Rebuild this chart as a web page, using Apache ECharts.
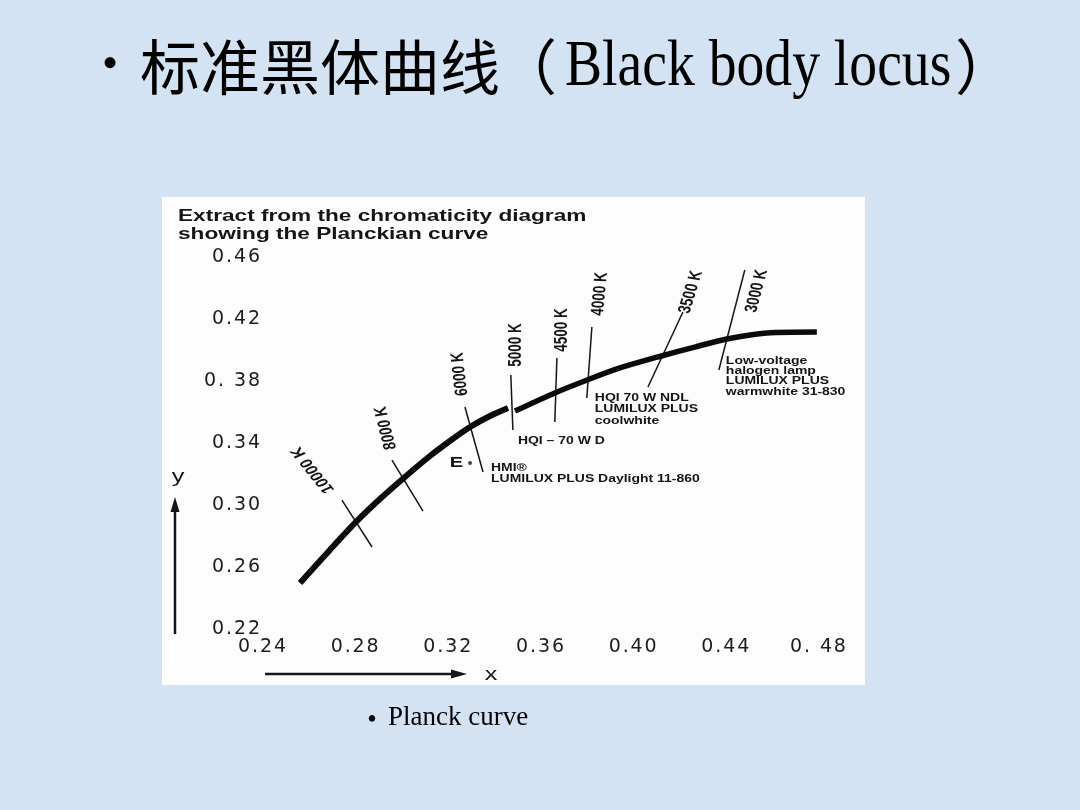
<!DOCTYPE html>
<html lang="zh">
<head>
<meta charset="utf-8">
<title>标准黑体曲线</title>
<script src="https://cdn.jsdelivr.net/npm/echarts@6.0.0/dist/echarts.min.js"></script>
<style>
  html, body { margin: 0; padding: 0; background: #d4e3f4; }
  #chart { width: 1080px; height: 810px; }
</style>
</head>
<body>
<div id="chart"></div>
<script>
// ---- data (CIE 1931 chromaticity x, y) --------------------------------
// Planckian locus, hot end up to the small jog at 5000 K
const locusHot = [
  [0.2564, 0.2497], [0.2693, 0.2710], [0.2810, 0.2897], [0.2909, 0.3039],
  [0.3017, 0.3181], [0.3125, 0.3316], [0.3211, 0.3413], [0.3298, 0.3503],
  [0.3384, 0.3574], [0.3462, 0.3626]
];
// warm end, from the 5000 K jog towards red
const locusWarm = [
  [0.3492, 0.3606], [0.3664, 0.3723], [0.3815, 0.3813], [0.3945, 0.3884],
  [0.4109, 0.3955], [0.4268, 0.4019], [0.4406, 0.4071], [0.4579, 0.4110],
  [0.4795, 0.4116]
];
// isotherms: name, upper end, lower end
const isothermNames = ['10000 K', '8000 K', '6000 K', '5000 K', '4500 K', '4000 K', '3500 K', '3000 K'];
const isothermUpper = [
  [0.2745, 0.3032], [0.2961, 0.3290], [0.3276, 0.3632], [0.3474, 0.3839],
  [0.3673, 0.3948], [0.3824, 0.4148], [0.4217, 0.4245], [0.4484, 0.4516]
];
const isothermLower = [
  [0.2875, 0.2729], [0.3095, 0.2961], [0.3354, 0.3213], [0.3483, 0.3484],
  [0.3664, 0.3535], [0.3802, 0.3690], [0.4066, 0.3761], [0.4372, 0.3871]
];
// equal-energy white point E
const equalEnergyPoint = [0.3298, 0.3271];

const xTickValues = [0.24, 0.28, 0.32, 0.36, 0.40, 0.44, 0.48];
const xTickLabels = ['0.24', '0.28', '0.32', '0.36', '0.40', '0.44', '0. 48'];
const yTickValues = [0.22, 0.26, 0.30, 0.34, 0.38, 0.42, 0.46];
const yTickLabels = ['0.22', '0.26', '0.30', '0.34', '0. 38', '0.42', '0.46'];

// lamp notes, each hung off the lower end of an isotherm
const lampNoteIsotherm = [2, 3, 5, 7];
const lampNotes = [
  ['HMI®', 'LUMILUX PLUS Daylight 11-860'],
  ['HQI – 70 W D'],
  ['HQI 70 W NDL', 'LUMILUX PLUS', 'coolwhite'],
  ['Low-voltage', 'halogen lamp', 'LUMILUX PLUS', 'warmwhite 31-830']
];

// ---- layout -----------------------------------------------------------
const WIDE = 1.33;                       // the diagram's lettering is set wide
const SANS = '"Liberation Sans", Arial, sans-serif';
const SERIF = '"Liberation Serif", "Times New Roman", serif';
const CJK = '"Noto Sans CJK SC", sans-serif';
const INK = '#151515';

// isotherm label placement: offset from the upper end (px) and angle (deg)
const isoLabelPlace = [
  [-29, -30, 121], [-6, -32, 101], [-5, -33, 95], [5, -30, 90],
  [5, -28, 90], [8, -33, 86], [8, -20, 77], [12, 21, 79]
];
// lamp note placement: offset from isotherm lower end to first line, line gap
const notePlace = [
  [8, -4, 11], [5, 11, 11], [8, 0, 11.5], [7, -9, 10.3]
];

const tracked = s => s.split('').join('\u200A');
const tickText = (vals, labels) => v => {
  const i = vals.findIndex(t => Math.abs(t - v) < 1e-6);
  return i < 0 ? '' : tracked(labels[i]);
};
const hiddenAxisParts = {
  axisLine: { show: false }, axisTick: { show: false }, splitLine: { show: false }
};
const tickFont = { color: '#1c1c1c', fontFamily: 'DejaVu Sans', fontSize: 19 };

const chart = echarts.init(document.getElementById('chart'), null, { renderer: 'canvas' });

chart.setOption({
  backgroundColor: '#d4e3f4',
  animation: false,
  grid: { left: 262, right: 262, top: 257, bottom: 181 },
  xAxis: Object.assign({
    type: 'value', min: 0.24, max: 0.48, interval: 0.04,
    axisLabel: Object.assign({ margin: 9, formatter: tickText(xTickValues, xTickLabels) }, tickFont)
  }, hiddenAxisParts),
  yAxis: Object.assign({
    type: 'value', min: 0.22, max: 0.46, interval: 0.02,
    axisLabel: Object.assign({ margin: 2, formatter: tickText(yTickValues, yTickLabels) }, tickFont)
  }, hiddenAxisParts),
  series: [
    {
      type: 'line', data: locusHot, smooth: 0.3, symbol: 'none', z: 4,
      lineStyle: { color: '#0b0b0b', width: 6, cap: 'butt' }
    },
    {
      type: 'line', data: locusWarm, smooth: 0.3, symbol: 'none', z: 4,
      lineStyle: { color: '#0b0b0b', width: 5.5, cap: 'butt' }
    },
    {
      type: 'lines', coordinateSystem: 'cartesian2d', z: 3,
      data: isothermUpper.map((p, i) => ({ coords: [p, isothermLower[i]] })),
      lineStyle: { color: INK, width: 1.5, opacity: 1, curveness: 0 }
    },
    {
      type: 'scatter', data: [equalEnergyPoint], symbolSize: 4, z: 4,
      itemStyle: { color: INK }
    }
  ]
});

// ---- text and decorations placed on top of the plot --------------------
const P = p => chart.convertToPixel({ gridIndex: 0 }, p);

function text(str, x, y, font, extra) {
  const el = {
    type: 'text', x: x, y: y, z: 10, silent: true,
    style: {
      text: str, font: font, fill: INK,
      align: 'left', verticalAlign: 'middle',
      textAlign: 'left', textVerticalAlign: 'middle'
    }
  };
  if (extra && extra.style) Object.assign(el.style, extra.style);
  if (extra) Object.keys(extra).forEach(k => { if (k !== 'style') el[k] = extra[k]; });
  return el;
}

const g = [];
// white card behind the diagram
g.push({ type: 'rect', z: -1, silent: true,
  shape: { x: 162, y: 197, width: 703, height: 488 }, style: { fill: '#fdfdfd' } });

// slide heading
g.push(text('•', 110, 66, '46px ' + SERIF, { style: { fill: '#000', align: 'center', textAlign: 'center' } }));
g.push(text('标准黑体曲线', 140, 67, '60px ' + CJK, { style: { fill: '#000' } }));
g.push(text('（', 497, 67, '60px ' + CJK, { style: { fill: '#000' } }));
g.push(text('Black body locus', 565, 68, '66px ' + SERIF, { scaleX: 0.843, style: { fill: '#000' } }));
g.push(text('）', 955, 67, '60px ' + CJK, { style: { fill: '#000' } }));

// diagram heading
g.push(text('Extract from the chromaticity diagram', 178, 216, 'bold 17px ' + SANS, { scaleX: WIDE }));
g.push(text('showing the Planckian curve', 178, 234, 'bold 17px ' + SANS, { scaleX: WIDE }));

// axis arrows and names
g.push({ type: 'line', z: 10, silent: true, shape: { x1: 175, y1: 634, x2: 175, y2: 509 },
  style: { stroke: INK, lineWidth: 2.5 } });
g.push({ type: 'polygon', z: 10, silent: true, shape: { points: [[175, 497], [170.5, 512], [179.5, 512]] },
  style: { fill: INK } });
g.push(text('y', 178, 477, '19px ' + SANS, { scaleX: WIDE, style: { align: 'center', textAlign: 'center' } }));
g.push({ type: 'line', z: 10, silent: true, shape: { x1: 265, y1: 674, x2: 454, y2: 674 },
  style: { stroke: INK, lineWidth: 2.5 } });
g.push({ type: 'polygon', z: 10, silent: true, shape: { points: [[467, 674], [451, 669.5], [451, 678.5]] },
  style: { fill: INK } });
g.push(text('x', 491, 675, '19px ' + SANS, { scaleX: WIDE, style: { align: 'center', textAlign: 'center' } }));

// isotherm labels
isothermNames.forEach((name, i) => {
  const top = P(isothermUpper[i]);
  const [dx, dy, deg] = isoLabelPlace[i];
  g.push({
    type: 'group', x: top[0] + dx, y: top[1] + dy, scaleX: WIDE, z: 10, silent: true,
    children: [{
      type: 'text', rotation: deg * Math.PI / 180, z: 10,
      style: {
        text: name, font: 'bold 13.5px ' + SANS, fill: INK,
        align: 'center', verticalAlign: 'middle', textAlign: 'center', textVerticalAlign: 'middle'
      }
    }]
  });
});

// equal-energy point letter
const e = P(equalEnergyPoint);
g.push(text('E', e[0] - 7, e[1], 'bold 15px ' + SANS, { scaleX: WIDE, style: { align: 'right', textAlign: 'right' } }));

// lamp notes
lampNotes.forEach((lines, k) => {
  const end = P(isothermLower[lampNoteIsotherm[k]]);
  const [dx, dy, gap] = notePlace[k];
  lines.forEach((line, j) => {
    g.push(text(line, end[0] + dx, end[1] + dy + j * gap, 'bold 10.5px ' + SANS, { scaleX: WIDE }));
  });
});

// caption under the diagram
g.push(text('•', 372, 721, '27px ' + SERIF, { style: { fill: '#000', align: 'center', textAlign: 'center' } }));
g.push(text('Planck curve', 388, 718, '27px ' + SERIF, { style: { fill: '#000' } }));

chart.setOption({ graphic: { elements: g } });
</script>
</body>
</html>
